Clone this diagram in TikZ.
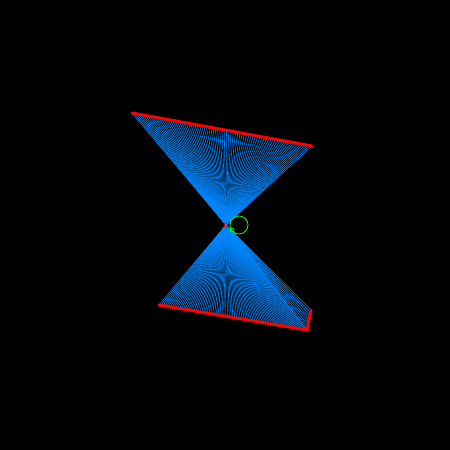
\documentclass[tikz,border=0pt]{standalone}
\usetikzlibrary{calc}
\begin{document}
\begin{tikzpicture}[x=1pt,y=-1pt,
  fan/.style={line width=0.6pt, color={rgb,255:red,0;green,135;blue,255}},
  edge/.style={line width=3pt, red, line cap=round},
  greenring/.style={green, line width=0.8pt}]
\fill[black] (0,0) rectangle (450,450);
\useasboundingbox (0,0) rectangle (450,450);
\coordinate (c) at (226,225);
\coordinate (tl) at (132,113);
\coordinate (tr) at (312,146);
\coordinate (bl) at (159,305);
\coordinate (br) at (307,330);
\coordinate (bt) at (311,310);
\foreach \t in {0,0.0125,...,1.001}{
  \draw[fan] (c) -- ($(tl)!\t!(tr)$);
  \draw[fan] (c) -- ($(bl)!\t!(br)$);
}
\foreach \t in {0,0.125,...,1.001}{
  \draw[fan] (c) -- ($(br)!\t!(bt)$);
}
\draw[edge] (tl) -- (tr);
\draw[edge] (bl) -- (br) -- (bt);
\draw[greenring] (239,225) circle (9);
\draw[greenring] (232,230) circle (2);
\draw[red, line width=0.8pt] (c) circle (2);
\end{tikzpicture}
\end{document}
